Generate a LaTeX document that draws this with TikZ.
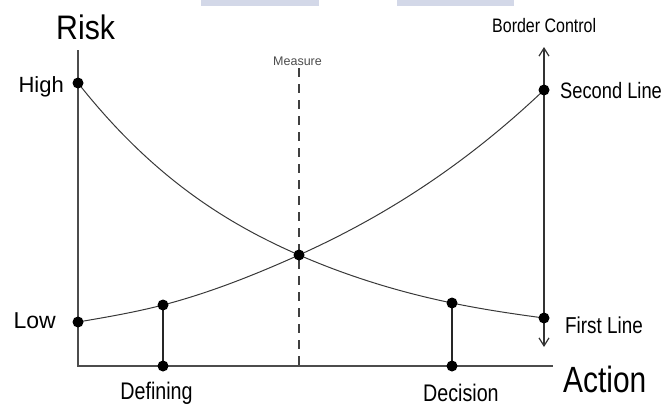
\documentclass[tikz,border=0pt]{standalone}
\usepackage{fontspec}
\setmainfont{Liberation Sans}
\newfontfamily\narrowfont{Liberation Sans}[FakeStretch=0.82]
\newfontfamily\riskfont{Liberation Sans}[FakeStretch=0.89]
\usetikzlibrary{arrows.meta,backgrounds}

\begin{document}
\begin{tikzpicture}[x=1pt,y=-1pt,
  dot/.style={circle,fill=black,inner sep=0pt,minimum size=11pt},
  lbl/.style={inner sep=0pt,text=black},
  curve/.style={draw=black!78,line width=1pt},
  axisline/.style={draw=black!70,line width=1.2pt},
  dropline/.style={draw=black!85,line width=1.1pt},
  measureline/.style={draw=black!75,line width=1.1pt,dash pattern=on 9pt off 7pt},
  tabfill/.style={fill={rgb,255:red,211;green,216;blue,232}}
]
\useasboundingbox (0,0) rectangle (666,407);

% tabs along the top edge
\fill[tabfill] (201,0) rectangle (319,6);
\fill[tabfill] (397,0) rectangle (514,6);

% axis ends and helper points
\coordinate (ytop) at (78,50);
\coordinate (origin) at (78,366);
\coordinate (xend) at (553,366);
\coordinate (mtop) at (299,68);
\coordinate (mbot) at (299,366);
\coordinate (bctop) at (544,47);
\coordinate (bcbot) at (544,347);

% points on the curves
\node[dot] (high)   at (78,83)   {};
\node[dot] (low)    at (78,322)  {};
\node[dot] (cross)  at (299,255) {};
\node[dot] (second) at (544,90)  {};
\node[dot] (first)  at (544,318) {};
\node[dot] (def)    at (163,305) {};
\node[dot] (defax)  at (163,366) {};
\node[dot] (dec)    at (452,303) {};
\node[dot] (decax)  at (452,366) {};

\begin{scope}[on background layer]
  % axes
  \draw[axisline] (ytop) -- (origin) -- (xend);
  % measure line
  \draw[measureline] (mtop) -- (mbot);
  % border control range
  \draw[axisline,draw=black!80,{Straight Barb[length=8pt,width=10pt]}-{Straight Barb[length=8pt,width=10pt]}] (bctop) -- (bcbot);
  % falling risk curve
  \draw[curve] (high.center)
    .. controls +(73.67,93.32) and +(-73.67,-32.05) .. (cross.center)
    .. controls +(51,22.19) and +(-51,-10.6) .. (dec.center)
    .. controls +(30.67,6.37) and +(-30.67,-4.08) .. (first.center);
  % rising risk curve
  \draw[curve] (low.center)
    .. controls +(28.33,-4.82) and +(-28.33,7.37) .. (def.center)
    .. controls +(45.33,-11.79) and +(-45.33,20.4) .. (cross.center)
    .. controls +(81.67,-36.75) and +(-81.67,77.6) .. (second.center);
  % drop lines to the action axis
  \draw[dropline] (def.center) -- (defax.center);
  \draw[dropline] (dec.center) -- (decax.center);
\end{scope}

% labels
\node[lbl,anchor=base west] (risk) at (56,39) {\riskfont\fontsize{34}{40}\selectfont Risk};
\node[lbl,anchor=base west] (action) at (563,392) {\narrowfont\fontsize{36.5}{42}\selectfont Action};
\node[lbl,anchor=base east] (highlbl) at (64,92) {\fontsize{22}{26}\selectfont High};
\node[lbl,anchor=base east] (lowlbl) at (56,328) {\fontsize{23}{27}\selectfont Low};
\node[lbl,anchor=base west] (secondlbl) at (560,98) {\narrowfont\fontsize{22.3}{26}\selectfont Second Line};
\node[lbl,anchor=base west] (firstlbl) at (565,333) {\narrowfont\fontsize{23}{27}\selectfont First Line};
\node[lbl,anchor=base west] (bclbl) at (492,32) {\narrowfont\fontsize{19.5}{23}\selectfont Border Control};
\node[lbl,anchor=base west,text=black!70] (measurelbl) at (273,65) {\fontsize{12.5}{15}\selectfont Measure};
\node[lbl,anchor=base] (deflbl) at (156.5,399) {\narrowfont\fontsize{24}{28}\selectfont Defining};
\node[lbl,anchor=base west] (declbl) at (423,401.5) {\narrowfont\fontsize{24}{28}\selectfont Decision};
\end{tikzpicture}
\end{document}
